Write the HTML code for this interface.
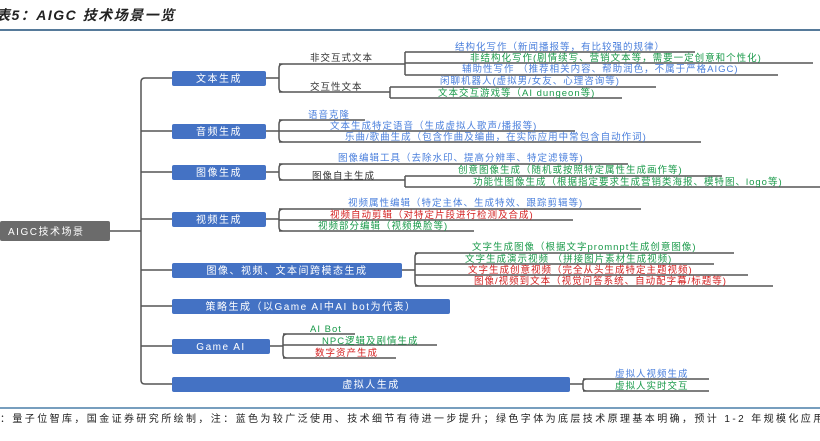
<!DOCTYPE html>
<html><head><meta charset="utf-8"><style>
html,body{margin:0;padding:0;width:820px;height:441px;overflow:hidden;background:#fff}
svg{display:block}
text{font-family:"Liberation Sans","Noto Sans CJK SC",sans-serif;font-size:9.5px;letter-spacing:1px}
.b{fill:#4a7fdc}.g{fill:#1a9a4a}.r{fill:#d42020}.k{fill:#333}.w{fill:#fff;font-size:10px;letter-spacing:1.5px}
</style></head><body>
<svg width="820" height="441" viewBox="0 0 820 441" xmlns="http://www.w3.org/2000/svg">
<text x="-4" y="20" style="font-size:14px;font-weight:bold;font-style:italic;fill:#222;letter-spacing:1.5px">表5：AIGC 技术场景一览</text>
<line x1="0" y1="30" x2="820" y2="30" stroke="#1f4e79" stroke-width="1.5"/>
<g stroke="#555" stroke-width="1.5" fill="none">
<path d="M110 231H141M145 78H172M141 82V380M145 131H172M145 172H172M145 219H172M145 270H172M145 306H172M145 346H172M145 384H172"/>
<path d="M145 78Q141 78 141 82M145 384Q141 384 141 380M141 131H145M141 172H145M141 219H145M141 270H145M141 306H145M141 346H145"/>
<path d="M266 78H279M283 64Q279 64 279 68V88Q279 92 283 92M279 64H405M279 92H390"/>
<path d="M405 52V75M405 52H695M405 63H813M405 75H778M390 87V98M390 87H656M390 98H622"/>
<path d="M266 131H279M283 120Q279 120 279 124V138Q279 142 283 142M279 120H365M279 131H575M279 142H701"/>
<path d="M266 172H279M283 164Q279 164 279 168V176Q279 180 283 180M279 164H628M279 180H405M405 176V187M405 176H722M405 187H820"/>
<path d="M266 219H279M283 209Q279 209 279 213V227Q279 231 283 231M279 209H641M279 220H573M279 231H474"/>
<path d="M402 270H415M419 253Q415 253 415 257V282Q415 286 419 286M415 253H734M415 264H714M415 275H748M415 286H773"/>
<path d="M270 346H283M287 334Q283 334 283 338V354Q283 358 287 358M283 334H355M283 345H437M283 358H396"/>
<path d="M570 384H583M587 379Q583 379 583 382V388Q583 391 587 391M583 379H709M583 391H709"/>
</g>
<rect x="0" y="221" width="110" height="20" rx="2" fill="#6b6b6b"/>
<text x="8" y="235" class="w">AIGC技术场景</text>
<g fill="#4472c4">
<rect x="172" y="71" width="94" height="15" rx="2"/>
<rect x="172" y="124" width="94" height="15" rx="2"/>
<rect x="172" y="165" width="94" height="15" rx="2"/>
<rect x="172" y="212" width="94" height="15" rx="2"/>
<rect x="172" y="263" width="230" height="15" rx="2"/>
<rect x="172" y="299" width="278" height="15" rx="2"/>
<rect x="172" y="339" width="98" height="15" rx="2"/>
<rect x="172" y="377" width="398" height="15" rx="2"/>
</g>
<g text-anchor="middle">
<text x="219" y="82" class="w">文本生成</text>
<text x="219" y="135" class="w">音频生成</text>
<text x="219" y="176" class="w">图像生成</text>
<text x="219" y="223" class="w">视频生成</text>
<text x="287" y="274" class="w">图像、视频、文本间跨模态生成</text>
<text x="311" y="310" class="w">策略生成（以Game AI中AI bot为代表）</text>
<text x="221" y="350" class="w">Game AI</text>
<text x="371" y="388" class="w">虚拟人生成</text>
</g>
<text x="310" y="61" class="k">非交互式文本</text>
<text x="310" y="90" class="k">交互性文本</text>
<text x="455" y="50" class="b">结构化写作（新闻播报等，有比较强的规律）</text>
<text x="470" y="61" class="g">非结构化写作(剧情续写、营销文本等，需要一定创意和个性化)</text>
<text x="462" y="72" class="b">辅助性写作 （推荐相关内容、帮助润色，不属于严格AIGC)</text>
<text x="440" y="84" class="b">闲聊机器人(虚拟男/女友、心理咨询等)</text>
<text x="438" y="96" class="g">文本交互游戏等（AI dungeon等)</text>
<text x="308" y="118" class="b">语音克隆</text>
<text x="330" y="129" class="b">文本生成特定语音（生成虚拟人歌声/播报等)</text>
<text x="345" y="140" class="b">乐曲/歌曲生成（包含作曲及编曲，在实际应用中常包含自动作词)</text>
<text x="338" y="161" class="b">图像编辑工具（去除水印、提高分辨率、特定滤镜等)</text>
<text x="312" y="179" class="k">图像自主生成</text>
<text x="458" y="173" class="g">创意图像生成（随机或按照特定属性生成画作等)</text>
<text x="473" y="185" class="g">功能性图像生成（根据指定要求生成营销类海报、模特图、logo等)</text>
<text x="348" y="206" class="b">视频属性编辑（特定主体、生成特效、跟踪剪辑等)</text>
<text x="330" y="218" class="r">视频自动剪辑（对特定片段进行检测及合成)</text>
<text x="318" y="229" class="g">视频部分编辑（视频换脸等)</text>
<text x="472" y="250" class="g">文字生成图像（根据文字promnpt生成创意图像)</text>
<text x="465" y="262" class="g">文字生成演示视频 （拼接图片素材生成视频)</text>
<text x="468" y="273" class="r">文字生成创意视频（完全从头生成特定主题视频)</text>
<text x="474" y="284" class="r">图像/视频到文本（视觉问答系统、自动配字幕/标题等)</text>
<text x="310" y="332" class="g">AI Bot</text>
<text x="322" y="344" class="g">NPC逻辑及剧情生成</text>
<text x="315" y="356" class="r">数字资产生成</text>
<text x="615" y="377" class="b">虚拟人视频生成</text>
<text x="615" y="389" class="g">虚拟人实时交互</text>
<line x1="0" y1="408" x2="820" y2="408" stroke="#4a7fa8" stroke-width="1.5"/>
<text x="0" y="422" style="fill:#222;font-size:10px;letter-spacing:2.4px">：量子位智库，国金证券研究所绘制，注：蓝色为较广泛使用、技术细节有待进一步提升；绿色字体为底层技术原理基本明确，预计 1-2 年规模化应用；</text>
</svg>
</body></html>
